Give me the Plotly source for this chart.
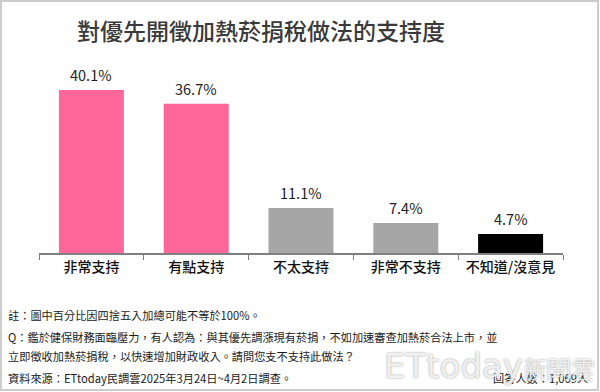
import plotly.graph_objects as go

categories = ["非常支持", "有點支持", "不太支持", "非常不支持", "不知道/沒意見"]
values = [40.1, 36.7, 11.1, 7.4, 4.7]
bar_colors = ["#FF6699", "#FF6699", "#A6A6A6", "#A6A6A6", "#000000"]

title_text = "對優先開徵加熱菸捐稅做法的支持度"
note_lines = [
    "註：圖中百分比因四捨五入加總可能不等於100%。",
    "Q：鑑於健保財務面臨壓力，有人認為：與其優先調漲現有菸捐，不如加速審查加熱菸合法上市，並",
    "立即徵收加熱菸捐稅，以快速增加財政收入。請問您支不支持此做法？",
    "資料來源：ETtoday民調雲2025年3月24日~4月2日調查。",
]
sample_text = "回答人數：1,069人"

W, H = 600, 392
L, R, T, B = 39, 37, 60, 139
pw, ph = W - L - R, H - T - B

def px(x):
    return (x - L) / pw

def py(y):
    return (H - B - y) / ph

FONT = "Noto Sans CJK TC"

fig = go.Figure()
fig.add_trace(go.Bar(
    x=categories, y=values,
    marker=dict(color=bar_colors, line=dict(width=0)),
    hoverinfo="skip",
))

annotations = []
for c, v in zip(categories, values):
    annotations.append(dict(
        x=c, y=v, xref="x", yref="y", text=f"{v:.1f}%", showarrow=False,
        yshift=15, font=dict(family=FONT, size=14.5, color="#222222"),
    ))

annotations.append(dict(
    x=px(261), y=py(30), xref="paper", yref="paper", text=title_text,
    showarrow=False, xanchor="center", yanchor="middle",
    font=dict(family=FONT, size=23, color="#3a3a3a", weight=500),
))

note_y = [315, 337, 356, 378]
for t, yy in zip(note_lines, note_y):
    annotations.append(dict(
        x=px(6), y=py(yy), xref="paper", yref="paper", text=t,
        showarrow=False, xanchor="left", yanchor="middle",
        font=dict(family=FONT, size=11.2, color="#1a1a1a"),
    ))

annotations.append(dict(
    x=px(590), y=py(378), xref="paper", yref="paper", text=sample_text,
    showarrow=False, xanchor="right", yanchor="middle",
    font=dict(family=FONT, size=11.2, color="#1a1a1a"),
))

annotations.append(dict(
    x=px(597), y=py(366), xref="paper", yref="paper",
    text="ETtoday<span style='font-size:24px'>新聞雲</span>",
    showarrow=False, xanchor="right", yanchor="middle",
    font=dict(family="DejaVu Sans", size=34, color="rgba(255,255,255,0.85)",
              shadow="0px 0px 2px #777"),
))

fig.update_layout(
    width=W, height=H,
    margin=dict(l=L, r=R, t=T, b=B),
    paper_bgcolor="white", plot_bgcolor="white",
    showlegend=False,
    bargap=0.38,
    xaxis=dict(
        showline=True, linecolor="#808080", linewidth=1.5,
        ticks="outside", tickson="boundaries", ticklen=5, tickcolor="#808080",
        tickfont=dict(family=FONT, size=14, color="#111111", weight=500),
        showgrid=False, fixedrange=True,
    ),
    yaxis=dict(range=[0, ph / 4.065], visible=False, fixedrange=True),
    annotations=annotations,
    shapes=[dict(
        type="rect", xref="paper", yref="paper",
        x0=px(1), x1=px(598), y0=py(390), y1=py(1),
        line=dict(color="#cccccc", width=2), layer="below",
    )],
)

fig.write_html(
    "out.html",
    config={"displayModeBar": False},
    post_script="document.body.style.margin='0';document.body.style.overflow='hidden';",
)
